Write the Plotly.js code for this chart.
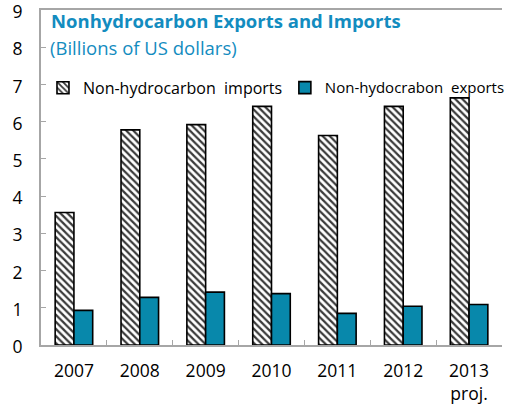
<!DOCTYPE html>
<html>
<head>
<meta charset="utf-8">
<script src="https://cdn.plot.ly/plotly-3.0.1.min.js"></script>
<style>html,body{margin:0;padding:0;background:#fff;}#chart{width:511px;height:414px;}</style>
</head>
<body>
<div id="chart"></div>
<script>
const years = ["2007", "2008", "2009", "2010", "2011", "2012", "2013"];
const yearLabels = ["2007", "2008", "2009", "2010", "2011", "2012", "2013<br>proj."];
const imports = [3.56, 5.78, 5.92, 6.41, 5.63, 6.41, 6.64];
const exportsVals = [0.93, 1.28, 1.42, 1.38, 0.85, 1.04, 1.09];
const importsName = "Non-hydrocarbon\u00a0 imports";
const exportsName = "Non-hydocrabon\u00a0 exports";
const titleText = "Nonhydrocarbon Exports and Imports";
const subtitleText = "(Billions of US dollars)";

const teal = "#0888ab";
const titleColor = "#138cbf";
const axisGray = "#a6a6a6";
const FONT = "Open Sans, DejaVu Sans, sans-serif";

const traces = [
  {
    type: "bar", x: years, y: imports, name: importsName, legend: "legend",
    marker: {
      color: "white",
      line: {color: "#000", width: 1.6},
      pattern: {shape: "\\", fgcolor: "#3a3a3a", bgcolor: "white", size: 5, solidity: 0.45}
    },
    hoverinfo: "skip"
  },
  {
    type: "bar", x: years, y: exportsVals, name: exportsName, legend: "legend2",
    marker: {color: teal, line: {color: "#000", width: 1.6}},
    hoverinfo: "skip"
  }
];

const layout = {
  width: 511, height: 414,
  margin: {l: 41, r: 1, t: 10, b: 69},
  paper_bgcolor: "#fff", plot_bgcolor: "#fff",
  font: {family: FONT, size: 16, color: "#000"},
  barmode: "group", bargap: 0.43, bargroupgap: 0,
  xaxis: {
    type: "category",
    tickvals: years, ticktext: yearLabels,
    showline: true, linecolor: axisGray, linewidth: 2, mirror: true,
    ticks: "inside", tickson: "boundaries", ticklen: 5, tickcolor: axisGray, tickwidth: 1,
    tickfont: {family: FONT, size: 17.5, color: "#000"},
    ticklabelstandoff: 9,
    showgrid: false, zeroline: false, fixedrange: true
  },
  yaxis: {
    range: [0, 9], dtick: 1, tick0: 0,
    showline: true, linecolor: axisGray, linewidth: 2,
    ticks: "inside", ticklen: 5, tickcolor: axisGray, tickwidth: 1,
    tickfont: {family: FONT, size: 17.5, color: "#000"},
    ticklabelstandoff: 13, ticklabeloverflow: "allow", ticklabelshift: 2,
    showgrid: false, zeroline: false, fixedrange: true
  },
  showlegend: true,
  legend: {
    x: 0.0043, xanchor: "left", y: 0.7675, yanchor: "middle",
    orientation: "h", bgcolor: "rgba(0,0,0,0)", borderwidth: 0,
    font: {family: FONT, size: 16, color: "#000"}
  },
  legend2: {
    x: 0.529, xanchor: "left", y: 0.7675, yanchor: "middle",
    orientation: "h", bgcolor: "rgba(0,0,0,0)", borderwidth: 0,
    font: {family: FONT, size: 15, color: "#000"}
  },
  annotations: [
    {text: "<b>" + titleText + "</b>", xref: "paper", yref: "paper", x: 0.017, y: 0.968,
     xanchor: "left", yanchor: "middle", showarrow: false,
     font: {family: FONT, size: 18.5, color: titleColor}},
    {text: subtitleText, xref: "paper", yref: "paper", x: 0.015, y: 0.888,
     xanchor: "left", yanchor: "middle", showarrow: false,
     font: {family: FONT, size: 18.5, color: titleColor}}
  ]
};

Plotly.newPlot("chart", traces, layout, {staticPlot: true, displayModeBar: false});
</script>
</body>
</html>
